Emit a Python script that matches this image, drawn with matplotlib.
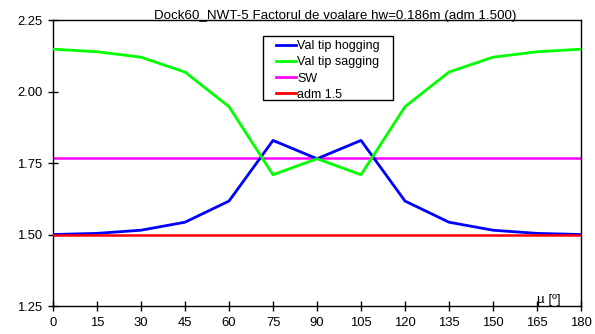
import matplotlib
matplotlib.use("Agg")
import matplotlib.pyplot as plt
from matplotlib.patches import Rectangle
from matplotlib.ticker import FormatStrFormatter

plt.rcParams['font.family'] = ['Liberation Sans', 'DejaVu Sans']
plt.rcParams['font.size'] = 9

mu = [0, 15, 30, 45, 60, 75, 90, 105, 120, 135, 150, 165, 180]
hogging = [1.501, 1.505, 1.516, 1.544, 1.618, 1.830, 1.766, 1.830, 1.618, 1.544, 1.516, 1.505, 1.501]
sagging = [2.149, 2.140, 2.121, 2.069, 1.948, 1.710, 1.766, 1.710, 1.948, 2.069, 2.121, 2.140, 2.149]
sw_value = 1.767
adm_value = 1.5
title = "Dock60_NWT-5 Factorul de voalare hw=0.186m (adm 1.500)"
labels = ["Val tip hogging", "Val tip sagging", "SW", "adm 1.5"]

W, H = 595, 334
fig = plt.figure(figsize=(W / 100, H / 100), dpi=100)
ax = fig.add_axes([53 / W, 1 - 306.3 / H, (581 - 53) / W, (306.3 - 20.3) / H])

ax.plot(mu, hogging, color='#0000FF', lw=2.0, label=labels[0], zorder=3)
ax.plot(mu, sagging, color='#00FF00', lw=2.0, label=labels[1], zorder=3)
ax.plot([mu[0], mu[-1]], [sw_value, sw_value], color='#FF00FF', lw=1.8, label=labels[2], zorder=2)
ax.plot([mu[0], mu[-1]], [adm_value, adm_value], color='#FF0000', lw=1.8, label=labels[3], zorder=4)

ax.set_xlim(0, 180)
ax.set_ylim(1.25, 2.25)
ax.set_xticks(mu)
ax.set_yticks([1.25, 1.50, 1.75, 2.00, 2.25])
ax.yaxis.set_major_formatter(FormatStrFormatter('%.2f'))
ax.tick_params(direction='inout', length=7, width=1, labelsize=9.4, color='black')
ax.tick_params(axis='x', pad=4)
ax.tick_params(axis='y', pad=4)
for s in ax.spines.values():
    s.set_linewidth(1.0)
    s.set_color('black')

fig.text(335 / W, 1 - 19.5 / H, title, ha='center', va='baseline', fontsize=9.6)
fig.text(537 / W, 1 - 303 / H, "µ [º]", ha='left', va='baseline', fontsize=9.6)

# legend box drawn separately so it can have wide side margins
box = Rectangle((263 / W, 1 - 100 / H), (392.7 - 263) / W, (100 - 35.7) / H,
                transform=fig.transFigure, facecolor='white', edgecolor='black',
                lw=1.0, zorder=4.9)
ax.add_patch(box)
box.set_clip_on(False)

leg = ax.legend(loc='upper left', bbox_to_anchor=(276 / W, 1 - 40 / H),
                bbox_transform=fig.transFigure, frameon=False,
                borderpad=0, handlelength=1.6, handletextpad=0.08,
                labelspacing=0.34, borderaxespad=0, fontsize=9)
leg.set_zorder(5)
for h in leg.get_lines():
    h.set_linewidth(2.0)

fig.savefig("out.png", dpi=100)
